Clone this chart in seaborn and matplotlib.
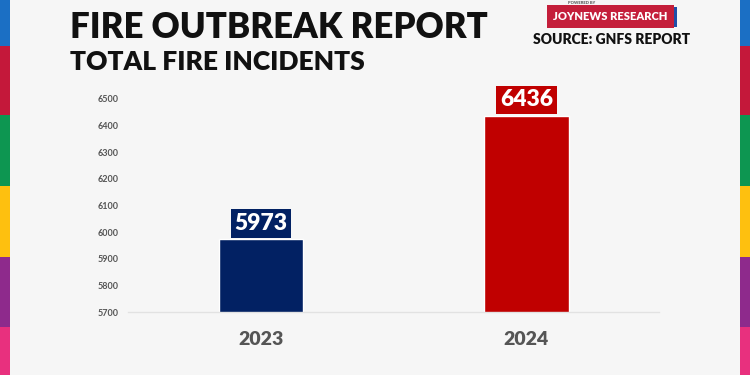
import pandas as pd
import seaborn as sns
import matplotlib.pyplot as plt
from matplotlib.patches import Rectangle

# data
years = ["2023", "2024"]
incidents = [5973, 6436]
bar_colors = ["#022163", "#c00000"]
y_ticks = [5700, 5800, 5900, 6000, 6100, 6200, 6300, 6400, 6500]

df = pd.DataFrame({"year": years, "incidents": incidents})

sns.set_theme(style="white")
plt.rcParams["font.family"] = ["Lato", "DejaVu Sans"]

bg = "#f6f6f6"
fig = plt.figure(figsize=(7.5, 3.75), dpi=100, facecolor=bg)
ax = fig.add_axes([0.171, 0.168, 0.708, 0.568])
ax.set_facecolor(bg)

sns.barplot(data=df, x="year", y="incidents", hue="year", saturation=1,
            palette=bar_colors, legend=False, width=0.32, ax=ax)

ax.set_ylim(5700, 6500)
ax.set_xlim(-0.5, 1.5)
ax.set_yticks(y_ticks)
ax.set_yticklabels([str(t) for t in y_ticks], fontsize=6.5,
                   color="#555555", fontweight="bold")
ax.tick_params(axis="y", length=0, pad=7)
ax.tick_params(axis="x", length=0, pad=14, labelsize=14, labelcolor="#555555")
for lab in ax.get_xticklabels():
    lab.set_fontweight("heavy")
ax.set_xlabel("")
ax.set_ylabel("")
for s in ["top", "right", "left"]:
    ax.spines[s].set_visible(False)
ax.spines["bottom"].set_color("#e2e2e2")
ax.spines["bottom"].set_linewidth(1)

# value labels
for i, v in enumerate(incidents):
    ax.annotate(str(v), (i, v), xytext=(0, 4), textcoords="offset points",
                ha="center", va="bottom", fontsize=16.5, fontweight="heavy",
                color="white", clip_on=False,
                bbox=dict(boxstyle="square,pad=0.17", fc=bar_colors[i], ec="none"))

# titles
fig.text(0.093, 0.899, "FIRE OUTBREAK REPORT", fontsize=25, fontweight="heavy",
         color="#111111", ha="left", va="baseline")
fig.text(0.093, 0.813, "TOTAL FIRE INCIDENTS", fontsize=19, fontweight="heavy",
         color="#111111", ha="left", va="baseline")

# branding
fig.text(0.775, 0.997, "POWERED BY", fontsize=3, fontweight="bold",
         color="#444444", ha="center", va="top")
fig.text(0.814, 0.955, "JOYNEWS RESEARCH", fontsize=8, fontweight="heavy",
         color="white", ha="center", va="center",
         bbox=dict(boxstyle="square,pad=0.55", fc="#c41e3a", ec="none"))
fig.patches.append(Rectangle((0.898, 0.928), 0.004, 0.054, transform=fig.transFigure,
                             fc="#1f4fa8", ec="none", zorder=5))
fig.text(0.816, 0.895, "SOURCE: GNFS REPORT", fontsize=10, fontweight="heavy",
         color="#111111", ha="center", va="center")

# side colour strips
strip = [("#1b6fc4", 0, 46), ("#c4183a", 46, 115), ("#0d9651", 115, 186),
         ("#fec00f", 186, 257), ("#8e2a8c", 257, 327), ("#e8307e", 327, 375)]
for c, y0, y1 in strip:
    for x0 in (0, 740):
        fig.patches.append(Rectangle((x0 / 750, 1 - y1 / 375), 10 / 750, (y1 - y0) / 375,
                                     transform=fig.transFigure, fc=c, ec="none"))

fig.savefig("out.png", dpi=100, facecolor=bg)
